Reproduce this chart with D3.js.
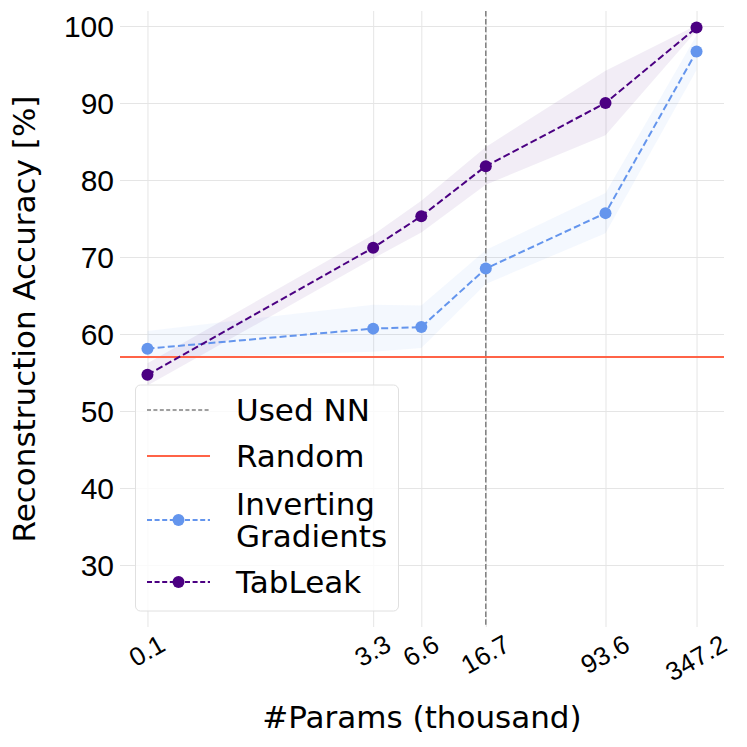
<!DOCTYPE html>
<html>
<head>
<meta charset="utf-8">
<script src="https://cdn.jsdelivr.net/npm/d3@7"></script>
<style>
  body { margin: 0; background: #fff; }
  svg { font-family: "DejaVu Sans", sans-serif; }
</style>
</head>
<body>
<div id="chart"></div>
<script>
// Data
const params = [0.128, 3.3, 6.6, 16.7, 93.6, 347.2]; // thousand params
const tickLabels = ["0.1", "3.3", "6.6", "16.7", "93.6", "347.2"];

const igMean = [58.1, 60.7, 60.9, 68.5, 75.7, 96.7];
const igLow = [56.8, 57.7, 58.2, 66.5, 73.1, 94.3];
const igHigh = [60.4, 63.8, 63.7, 70.9, 78.3, 98.8];

const tlMean = [54.7, 71.2, 75.3, 81.8, 90.0, 99.8];
const tlLow = [53.3, 69.8, 73.2, 79.4, 85.8, 99.4];
const tlHigh = [56.2, 72.9, 77.3, 84.3, 94.2, 100.1];

const randomLevel = 57.0;
const usedNN = 16.7;

const yTicks = [30, 40, 50, 60, 70, 80, 90, 100];
const legendLabels = ["Used NN", "Random", "Inverting\nGradients", "TabLeak"];

// Layout
const width = 747;
const height = 747;
const plot = { left: 120, right: 724, top: 11, bottom: 627 };

const svg = d3
  .select("#chart")
  .append("svg")
  .attr("width", width)
  .attr("height", height);

// log x with 5% margins like matplotlib
const lmin = Math.log10(d3.min(params));
const lmax = Math.log10(d3.max(params));
const pad = (lmax - lmin) * 0.05;
const x = d3
  .scaleLog()
  .domain([Math.pow(10, lmin - pad), Math.pow(10, lmax + pad)])
  .range([plot.left, plot.right]);

const y = d3.scaleLinear().domain([21.95, 101.95]).range([plot.bottom, plot.top]);

// Grid + y ticks
const yAxis = svg
  .append("g")
  .attr("transform", `translate(${plot.left},0)`)
  .call(
    d3.axisLeft(y)
      .tickValues(yTicks)
      .tickSize(-(plot.right - plot.left))
      .tickPadding(6)
  );
yAxis.select(".domain").remove();
yAxis.selectAll("line").attr("stroke", "#e5e5e5").attr("stroke-width", 1);
yAxis.selectAll("text")
  .attr("fill", "#000")
  .style("font-size", "30px")
  .attr("dy", "0.36em");

// Grid + x ticks
const xAxis = svg
  .append("g")
  .attr("transform", `translate(0,${plot.bottom})`)
  .call(
    d3.axisBottom(x)
      .tickValues(params)
      .tickFormat((d, i) => tickLabels[i])
      .tickSize(-(plot.bottom - plot.top))
  );
xAxis.select(".domain").remove();
xAxis.selectAll("line").attr("stroke", "#e5e5e5").attr("stroke-width", 1);
const xFont = 26;
xAxis.selectAll("text")
  .attr("fill", "#000")
  .style("font-size", xFont + "px")
  .attr("text-anchor", "middle")
  .attr("dominant-baseline", "central")
  .attr("y", 0)
  .attr("dy", null)
  .each(function () {
    const w = this.getComputedTextLength();
    const h = xFont * 1.164;
    const H = w * 0.5 + h * 0.866;
    d3.select(this).attr("transform", `translate(-1,${1.5 + H / 2}) rotate(-30)`);
  });

// Bands
const area = (lo, hi) =>
  d3.area()
    .x((d, i) => x(params[i]))
    .y0((d, i) => y(lo[i]))
    .y1((d, i) => y(hi[i]))(params);

svg.append("path").attr("d", area(igLow, igHigh))
  .attr("fill", "#6495ED").attr("fill-opacity", 0.07);
svg.append("path").attr("d", area(tlLow, tlHigh))
  .attr("fill", "#4B0082").attr("fill-opacity", 0.07);

// Used NN vertical line
svg.append("line")
  .attr("x1", x(usedNN)).attr("x2", x(usedNN))
  .attr("y1", plot.top).attr("y2", plot.bottom)
  .attr("stroke", "#808080").attr("stroke-width", 1.5)
  .attr("stroke-dasharray", "5.5,2.4");

// Random horizontal line
svg.append("line")
  .attr("x1", plot.left).attr("x2", plot.right)
  .attr("y1", y(randomLevel)).attr("y2", y(randomLevel))
  .attr("stroke", "#FF6347").attr("stroke-width", 2);

// Series
const line = d3.line().x((d, i) => x(params[i])).y((d) => y(d));

function drawSeries(values, color) {
  svg.append("path")
    .attr("d", line(values))
    .attr("fill", "none")
    .attr("stroke", color)
    .attr("stroke-width", 2)
    .attr("stroke-dasharray", "7,3.2");
  svg.append("g")
    .selectAll("circle")
    .data(values)
    .join("circle")
    .attr("cx", (d, i) => x(params[i]))
    .attr("cy", (d) => y(d))
    .attr("r", 6)
    .attr("fill", color);
}
drawSeries(igMean, "#6495ED");
drawSeries(tlMean, "#4B0082");

// Legend
const lg = svg.append("g");
lg.append("rect")
  .attr("x", 135.5).attr("y", 385)
  .attr("width", 263).attr("height", 226)
  .attr("rx", 5)
  .attr("fill", "#fff").attr("fill-opacity", 0.8)
  .attr("stroke", "#e0e0e0").attr("stroke-width", 1);

const rowY = [410, 456, 520, 582];
const handles = [
  { color: "#808080", dash: "4,2.4", width: 1.5, marker: false },
  { color: "#FF6347", dash: null, width: 2, marker: false },
  { color: "#6495ED", dash: "5,2.6", width: 2, marker: true },
  { color: "#4B0082", dash: "5,2.6", width: 2, marker: true },
];
const legendFont = 31;

legendLabels.forEach((label, i) => {
  const h = handles[i];
  const cy = rowY[i];
  lg.append("line")
    .attr("x1", 147).attr("x2", 210)
    .attr("y1", cy).attr("y2", cy)
    .attr("stroke", h.color).attr("stroke-width", h.width)
    .attr("stroke-dasharray", h.dash);
  if (h.marker) {
    lg.append("circle").attr("cx", 178.5).attr("cy", cy).attr("r", 6).attr("fill", h.color);
  }
  const lines = label.split("\n");
  const lineH = 31.7;
  const t = lg.append("text")
    .attr("x", 236)
    .style("font-size", legendFont + "px")
    .attr("fill", "#000");
  lines.forEach((s, j) => {
    const base = cy + 11.3 - ((lines.length - 1) * lineH) / 2 + j * lineH;
    t.append("tspan").attr("x", 236).attr("y", base).text(s);
  });
});

// Axis labels
svg.append("text")
  .attr("x", (plot.left + plot.right) / 2)
  .attr("y", 728)
  .attr("text-anchor", "middle")
  .style("font-size", "31px")
  .text("#Params (thousand)");

svg.append("text")
  .attr("transform", `translate(35,${(plot.top + plot.bottom) / 2}) rotate(-90)`)
  .attr("text-anchor", "middle")
  .style("font-size", "31px")
  .text("Reconstruction Accuracy [%]");
</script>
</body>
</html>
